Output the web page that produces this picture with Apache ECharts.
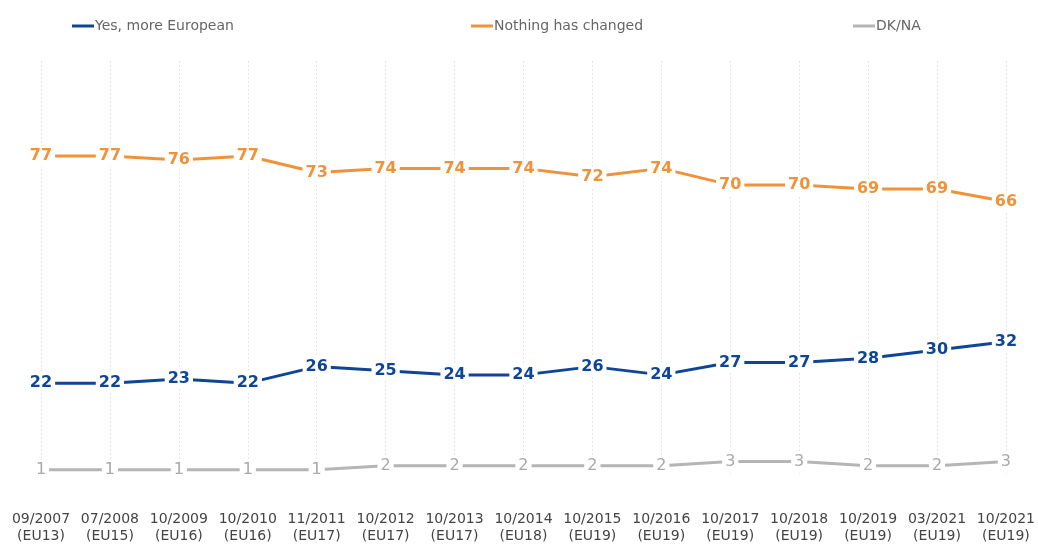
<!DOCTYPE html>
<html><head><meta charset="utf-8">
<script src="https://cdn.jsdelivr.net/npm/echarts@6/dist/echarts.min.js"></script>
<style>html,body{margin:0;padding:0;background:#fff}#c{width:1038px;height:545px}</style>
</head><body><div id="c"></div>
<script>
const categories = ["09/2007\n(EU13)","07/2008\n(EU15)","10/2009\n(EU16)","10/2010\n(EU16)","11/2011\n(EU17)","10/2012\n(EU17)","10/2013\n(EU17)","10/2014\n(EU18)","10/2015\n(EU19)","10/2016\n(EU19)","10/2017\n(EU19)","10/2018\n(EU19)","10/2019\n(EU19)","03/2021\n(EU19)","10/2021\n(EU19)"];
const yesMoreEuropean = [22,22,23,22,26,25,24,24,26,24,27,27,28,30,32];
const nothingChanged = [77,77,76,77,73,74,74,74,72,74,70,70,69,69,66];
const dkna = [1,1,1,1,1,2,2,2,2,2,3,3,2,2,3];
const names = ["Yes, more European","Nothing has changed","DK/NA"];
const colors = ["#0f4596","#f0923a","#b5b5b5"];
const labelColors = ["#0f4596","#f0923a","#a9a9a9"];
const labelWeights = ["bold","bold","normal"];
const font = "DejaVu Sans, Verdana, sans-serif";
const chart = echarts.init(document.getElementById('c'));
function mk(i, data){
  return {
    name: names[i], type:'line', data: data,
    symbol:'circle', symbolSize:1, itemStyle:{color:'rgba(255,255,255,0)', borderWidth:0},
    lineStyle:{color:colors[i], width:3},
    label:{show:true, position:'inside', color:labelColors[i], fontFamily:font, fontWeight:labelWeights[i], fontSize:16,
      backgroundColor:'#fff', padding:[2,3]},
    emphasis:{disabled:true}, animation:false, z: 3
  };
}
const legendBase = {top:19, padding:0, itemWidth:22, itemHeight:3, itemGap:0, icon:'rect', textStyle:{color:'#666', fontSize:14, fontFamily:font, padding:[0,0,0,-4]}, selectedMode:false};
chart.setOption({
  backgroundColor:'#fff',
  animation:false,
  legend:[
    Object.assign({}, legendBase, {left:72, data:[{name:names[0], itemStyle:{color:colors[0], opacity:1}}]}),
    Object.assign({}, legendBase, {left:471, data:[{name:names[1], itemStyle:{color:colors[1], opacity:1}}]}),
    Object.assign({}, legendBase, {left:853, data:[{name:names[2], itemStyle:{color:colors[2], opacity:1}}]})
  ],
  grid:{left:41, right:31, top:61, bottom:62, containLabel:false},
  xAxis:{type:'category', data:categories, boundaryGap:false,
    axisLine:{show:false}, axisTick:{show:false},
    axisLabel:{color:'#444', fontSize:14, fontFamily:font, margin:37, lineHeight:17, interval:0},
    splitLine:{show:true, lineStyle:{color:'#e6e6e6', type:[2,2], width:1}}},
  yAxis:{type:'value', min:0, max:100, show:false, splitLine:{show:false}},
  series:[mk(1,nothingChanged), mk(0,yesMoreEuropean), mk(2,dkna)]
});
</script></body></html>
